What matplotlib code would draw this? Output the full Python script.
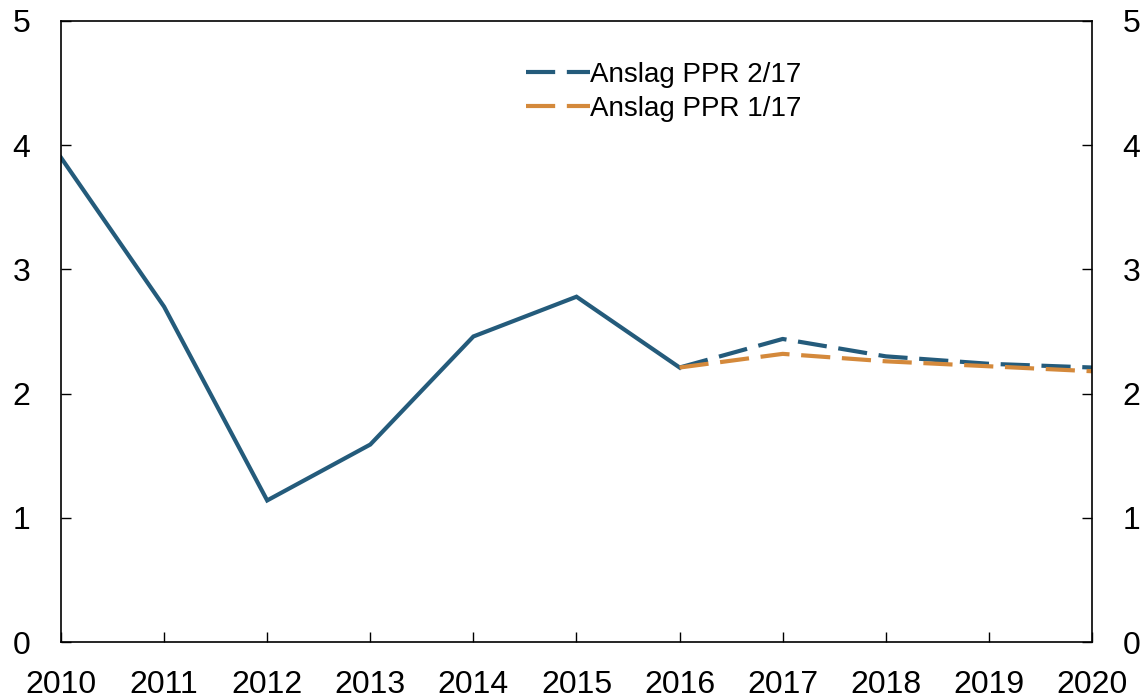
import matplotlib
matplotlib.use('Agg')
import matplotlib.pyplot as plt

plt.rcParams['font.family'] = ['Liberation Sans', 'DejaVu Sans']

# historical values
years_hist = [2010, 2011, 2012, 2013, 2014, 2015, 2016]
hist = [3.9, 2.7, 1.14, 1.59, 2.46, 2.78, 2.21]

# projections
years_proj = [2016, 2017, 2018, 2019, 2020]
ppr_2_17 = [2.21, 2.44, 2.30, 2.24, 2.21]
ppr_1_17 = [2.21, 2.32, 2.26, 2.22, 2.18]

blue = '#245b7b'
orange = '#d4893b'

fig = plt.figure(figsize=(11.46, 6.99), dpi=100)
ax = fig.add_axes([0.0532, 0.0815, 0.8997, 0.8885])

ax.plot(years_hist, hist, color=blue, lw=3, solid_joinstyle='miter')
ax.plot(years_proj, ppr_2_17, color=blue, lw=3, dashes=(7, 2.8), label='Anslag PPR 2/17')
ax.plot(years_proj, ppr_1_17, color=orange, lw=3, dashes=(7, 2.8), label='Anslag PPR 1/17')

ax.set_xlim(2010, 2020)
ax.set_ylim(0, 5)
ax.set_xticks(range(2010, 2021))
ax.set_yticks(range(0, 6))

ax.tick_params(axis='both', direction='in', length=7, width=1, labelsize=23)
ax.tick_params(axis='y', right=True, labelright=True, pad=22)
ax.tick_params(axis='x', pad=20)
for s in ax.spines.values():
    s.set_linewidth(1.2)

ax.legend(loc='upper left', bbox_to_anchor=(0.438, 0.957), frameon=False,
          fontsize=20, handlelength=2.3, handletextpad=0.0, labelspacing=0.3,
          borderpad=0)

fig.savefig('out.png', dpi=100)
